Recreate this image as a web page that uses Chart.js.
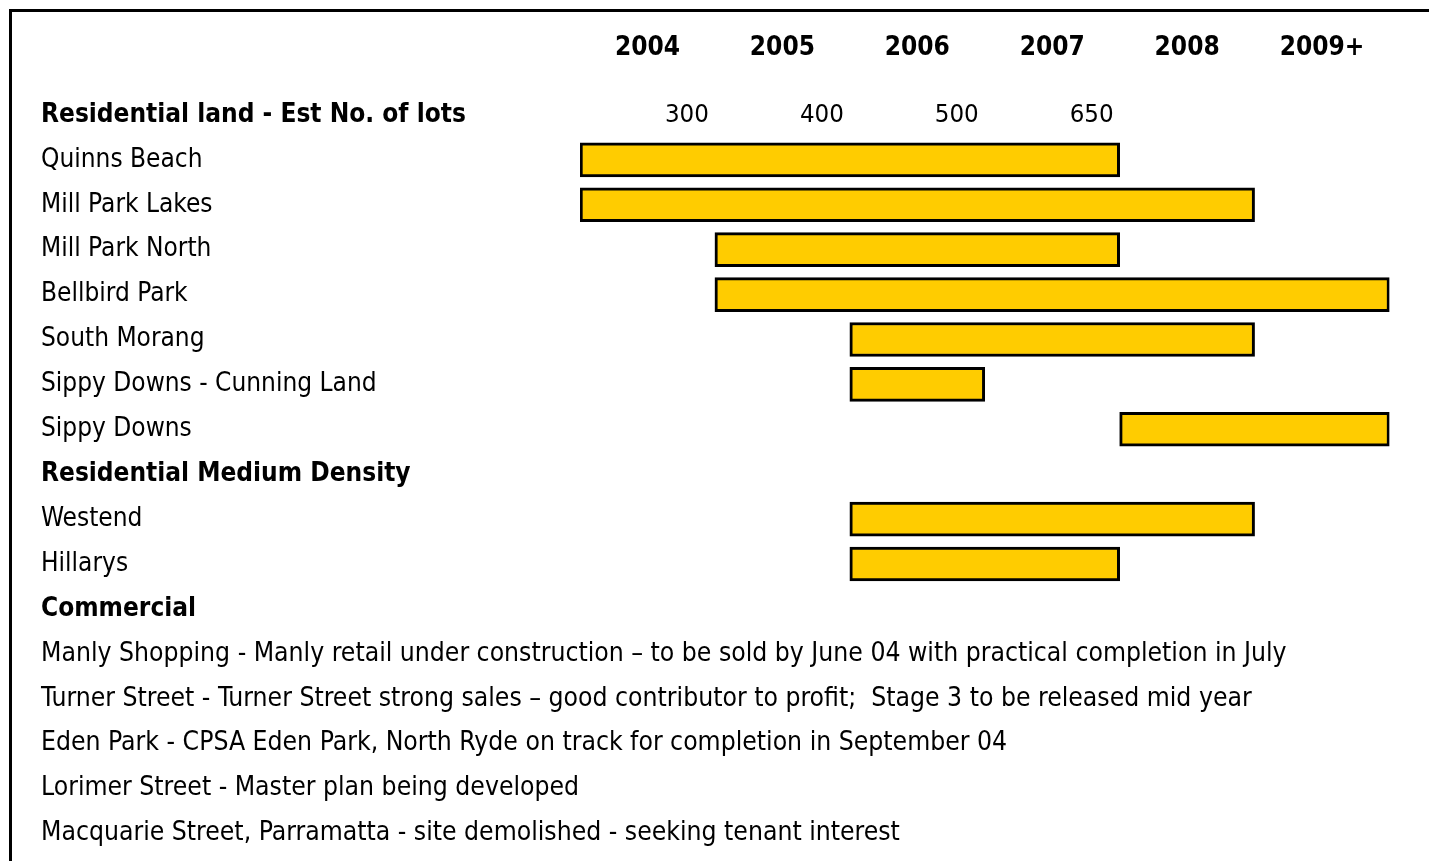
<!DOCTYPE html>
<html>
<head>
<meta charset="utf-8">
<script src="https://cdn.jsdelivr.net/npm/chart.js@4"></script>
<style>
  html, body { margin: 0; padding: 0; background: #fff; }
  canvas { display: block; }
</style>
</head>
<body>
<canvas id="plan" width="1429" height="861"></canvas>
<script>
// Development timeline data
const YEARS = ['2004', '2005', '2006', '2007', '2008', '2009+'];
const LOTS = ['300', '400', '500', '650'];

const ROW_LABELS = [
  'Residential land - Est No. of lots',
  'Quinns Beach',
  'Mill Park Lakes',
  'Mill Park North',
  'Bellbird Park',
  'South Morang',
  'Sippy Downs - Cunning Land',
  'Sippy Downs',
  'Residential Medium Density',
  'Westend',
  'Hillarys',
  'Commercial',
  'Manly Shopping - Manly retail under construction \u2013 to be sold by June 04 with practical completion in July',
  'Turner Street - Turner Street strong sales \u2013 good contributor to profit;  Stage 3 to be released mid year',
  'Eden Park - CPSA Eden Park, North Ryde on track for completion in September 04',
  'Lorimer Street - Master plan being developed',
  'Macquarie Street, Parramatta - site demolished - seeking tenant interest'
];
const HEADERS = ['Residential land - Est No. of lots', 'Residential Medium Density', 'Commercial'];

const PROJECTS = ['Quinns Beach', 'Mill Park Lakes', 'Mill Park North', 'Bellbird Park', 'South Morang',
  'Sippy Downs - Cunning Land', 'Sippy Downs', 'Westend', 'Hillarys'];
const START_YEAR = ['2004', '2004', '2005', '2005', '2006', '2006', '2008', '2006', '2006'];
const END_YEAR = ['2007', '2008', '2007', '2009+', '2008', '2006', '2009+', '2008', '2007'];

const FONT = "'DejaVu Sans Condensed', 'DejaVu Sans', sans-serif";

const bars = PROJECTS.map((p, i) => ({
  y: p,
  x: [YEARS.indexOf(START_YEAR[i]), YEARS.indexOf(END_YEAR[i]) + 1]
}));

const decor = {
  id: 'decor',
  beforeDraw(chart) {
    const ctx = chart.ctx;
    ctx.save();
    ctx.fillStyle = '#fff';
    ctx.fillRect(0, 0, chart.width, chart.height);
    ctx.strokeStyle = '#000';
    ctx.lineWidth = 3;
    ctx.beginPath();
    ctx.moveTo(10.5, chart.height);
    ctx.lineTo(10.5, 10.5);
    ctx.lineTo(chart.width, 10.5);
    ctx.stroke();
    ctx.restore();
  },
  afterDatasetsDraw(chart) {
    const ctx = chart.ctx;
    const xs = chart.scales.x, ys = chart.scales.y;
    ctx.save();
    ctx.fillStyle = '#000';
    ctx.font = '25.6px ' + FONT;
    ctx.textAlign = 'right';
    ctx.textBaseline = 'middle';
    LOTS.forEach((l, i) => {
      ctx.fillText(l, xs.getPixelForValue(i + 1) - 6, ys.getPixelForValue(0));
    });
    ctx.restore();
  }
};

new Chart(document.getElementById('plan').getContext('2d'), {
  type: 'bar',
  data: {
    labels: ROW_LABELS,
    datasets: [{
      data: bars,
      backgroundColor: '#FFCC00',
      borderColor: '#000',
      borderWidth: 3,
      borderSkipped: false,
      barThickness: 34
    }]
  },
  options: {
    indexAxis: 'y',
    responsive: false,
    animation: false,
    layout: { padding: { left: 41, right: 39.5, top: 0, bottom: 5.15 } },
    plugins: { legend: { display: false }, tooltip: { enabled: false } },
    scales: {
      x: {
        position: 'top',
        min: 0,
        max: 6,
        grid: { display: false, drawTicks: false },
        border: { display: false },
        afterBuildTicks: s => { s.ticks = YEARS.map((y, i) => ({ value: i + 0.5 })); },
        afterFit: s => { s.height = 92.5; },
        ticks: {
          autoSkip: false,
          maxRotation: 0,
          padding: 28.45,
          color: '#000',
          font: { family: FONT, size: 26, weight: 'bold' },
          callback: (v, i) => YEARS[i]
        }
      },
      y: {
        position: 'left',
        grid: { display: false, drawTicks: false },
        border: { display: false },
        afterFit: s => { s.width = 539; },
        ticks: {
          autoSkip: false,
          mirror: true,
          crossAlign: 'near',
          padding: -539,
          color: '#000',
          font: c => {
            const bold = HEADERS.includes(ROW_LABELS[c.index]);
            return { family: FONT, size: c.index > 11 ? 26.3 : 26, weight: bold ? 'bold' : 'normal', lineHeight: 0.3 };
          }
        }
      }
    }
  },
  plugins: [decor]
});
</script>
</body>
</html>
